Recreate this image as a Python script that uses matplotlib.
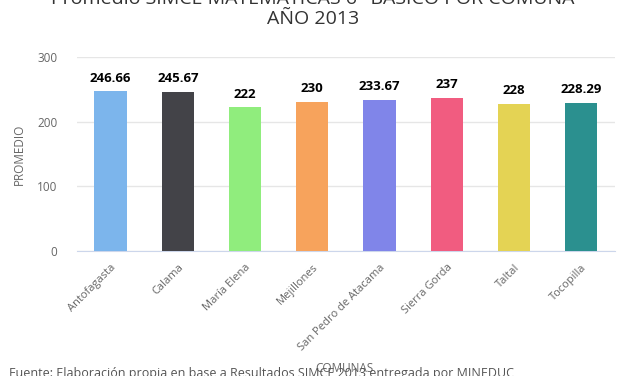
import matplotlib.pyplot as plt

comunas = ['Antofagasta', 'Calama', 'María Elena', 'Mejillones',
           'San Pedro de Atacama', 'Sierra Gorda', 'Taltal', 'Tocopilla']
promedios = [246.66, 245.67, 222, 230, 233.67, 237, 228, 228.29]
etiquetas = ['246.66', '245.67', '222', '230', '233.67', '237', '228', '228.29']
colores = ['#7cb5ec', '#434348', '#90ed7d', '#f7a35c',
           '#8085e9', '#f15c80', '#e4d354', '#2b908f']
yticks = [0, 100, 200, 300]

plt.rcParams['font.family'] = ['Open Sans', 'DejaVu Sans']

fig = plt.figure(figsize=(6.27, 3.76), dpi=100)
ax = fig.add_axes([0.1228, 0.3324, 0.858, 0.516])

x = range(len(comunas))
ax.bar(x, promedios, width=0.48, color=colores, zorder=3)

for i, (v, t) in enumerate(zip(promedios, etiquetas)):
    ax.annotate(t, (i, v), xytext=(0, 5), textcoords='offset points',
                ha='center', va='bottom', fontsize=9.5, fontweight='bold', color='#000000')

ax.set_xlim(-0.5, len(comunas) - 0.5)
ax.set_ylim(0, 300)
ax.set_yticks(yticks)
ax.set_yticklabels([str(v) for v in yticks], color='#666666', fontsize=8.5)
ax.set_xticks(list(x))
ax.set_xticklabels(comunas, rotation=45, ha='right', rotation_mode='anchor',
                   color='#666666', fontsize=8)
ax.tick_params(axis='both', length=0)
ax.tick_params(axis='y', pad=14)
ax.tick_params(axis='x', pad=8)

ax.grid(axis='y', color='#e6e6e6', linewidth=1, zorder=0)
for s in ['top', 'right', 'left']:
    ax.spines[s].set_visible(False)
ax.spines['bottom'].set_color('#ccd6eb')

ax.set_ylabel('PROMEDIO', color='#666666', fontsize=8.5, labelpad=8)

fig.text(313 / 627, 1.0 - 9 / 376, 'Promedio SIMCE MATEMÁTICAS 6° BÁSICO POR COMUNA\nAÑO 2013',
         ha='center', va='center', fontsize=14, color='#333333', linespacing=1.2)
fig.text(0.55, 1.0 - 368 / 376, 'COMUNAS', ha='center', va='center',
         fontsize=8.5, color='#666666')
fig.text(0.015, 1.0 - 373 / 376,
         'Fuente: Elaboración propia en base a Resultados SIMCE 2013 entregada por MINEDUC',
         ha='left', va='center', fontsize=9, color='#555555')

fig.savefig('out.png', dpi=100)
